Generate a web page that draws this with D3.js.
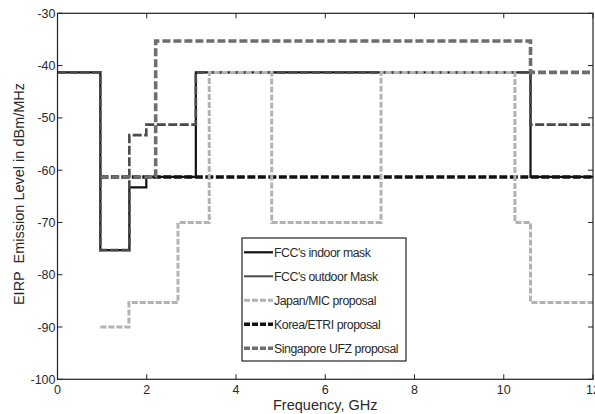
<!DOCTYPE html>
<html>
<head>
<meta charset="utf-8">
<script src="https://cdn.jsdelivr.net/npm/d3@7"></script>
<style>
    body { margin: 0; background: #fff; }
    text { font-family: "Liberation Sans", Arial, sans-serif; fill: #2a2a2a; }
</style>
</head>
<body>
<svg id="chart" width="595" height="414"></svg>
<script>
// step breakpoints (GHz) and levels (dBm/MHz), each level holds until the next breakpoint
const fcc_indoor_x = [0, 0.96, 1.61, 1.99, 3.1, 10.6, 12];
const fcc_indoor_y = [-41.3, -75.3, -63.3, -61.3, -41.3, -61.3, -61.3];

const fcc_outdoor_x = [0, 0.96, 1.61, 1.99, 3.1, 10.6, 12];
const fcc_outdoor_y = [-41.3, -75.3, -53.3, -51.3, -41.3, -51.3, -51.3];

const japan_x = [0.96, 1.6, 2.7, 3.4, 4.8, 7.25, 10.25, 10.6, 12];
const japan_y = [-90, -85.3, -70, -41.3, -70, -41.3, -70, -85.3, -85.3];

const korea_x = [0.96, 12];
const korea_y = [-61.3, -61.3];

const singapore_x = [0.96, 2.2, 10.6, 12];
const singapore_y = [-61.3, -35.3, -41.3, -41.3];

const legend_labels = ["FCC's indoor mask", "FCC's outdoor Mask", "Japan/MIC proposal",
    "Korea/ETRI proposal", "Singapore UFZ proposal"];

const x_ticks = [0, 2, 4, 6, 8, 10, 12];
const y_ticks = [-30, -40, -50, -60, -70, -80, -90, -100];

const svg = d3.select("#chart");
const plot_left = 57.5, plot_right = 593, plot_top = 13.3, plot_bottom = 379.3;

const x = d3.scaleLinear().domain([0, 12]).range([plot_left, plot_right]);
const y = d3.scaleLinear().domain([-100, -30]).range([plot_bottom, plot_top]);

// series styles, same order as legend
let series = [
    { xs: fcc_indoor_x, ys: fcc_indoor_y, color: "#111", width: 2.2, dash: null },
    { xs: fcc_outdoor_x, ys: fcc_outdoor_y, color: "#4a4a4a", width: 2.6, dash: "9,2.5", legend_dash: null },
    { xs: japan_x, ys: japan_y, color: "#b3b3b3", width: 3, dash: "6,2" },
    { xs: korea_x, ys: korea_y, color: "#111", width: 3.4, dash: "8,2.5" },
    { xs: singapore_x, ys: singapore_y, color: "#6e6e6e", width: 3.6, dash: "8,3" }
];

const line = d3.line()
    .x(d => x(d[0]))
    .y(d => y(d[1]))
    .curve(d3.curveStepAfter);

// drawing order: solid masks first, proposals on top
let draw_order = [0, 1, 3, 4, 2];
draw_order.forEach(i => {
    let s = series[i];
    let pts = s.xs.map((v, k) => [v, s.ys[k]]);
    svg.append("path")
        .attr("d", line(pts))
        .attr("fill", "none")
        .attr("stroke", s.color)
        .attr("stroke-width", s.width)
        .attr("stroke-dasharray", s.dash);
});

// frame with inward ticks on all sides
svg.append("rect")
    .attr("x", plot_left).attr("y", plot_top)
    .attr("width", plot_right - plot_left).attr("height", plot_bottom - plot_top)
    .attr("fill", "none").attr("stroke", "#222").attr("stroke-width", 1.2);

let ax = svg.append("g").attr("stroke", "#222").attr("stroke-width", 1);
ax.selectAll(".tb").data(x_ticks).enter().append("line")
    .attr("x1", d => x(d)).attr("x2", d => x(d))
    .attr("y1", plot_bottom).attr("y2", plot_bottom - 5);
ax.selectAll(".tt").data(x_ticks).enter().append("line")
    .attr("x1", d => x(d)).attr("x2", d => x(d))
    .attr("y1", plot_top).attr("y2", plot_top + 5);
ax.selectAll(".tl").data(y_ticks).enter().append("line")
    .attr("x1", plot_left).attr("x2", plot_left + 5)
    .attr("y1", d => y(d)).attr("y2", d => y(d));
ax.selectAll(".tr").data(y_ticks).enter().append("line")
    .attr("x1", plot_right).attr("x2", plot_right - 5)
    .attr("y1", d => y(d)).attr("y2", d => y(d));

svg.selectAll(".xl").data(x_ticks).enter().append("text")
    .attr("x", d => x(d)).attr("y", 394)
    .attr("text-anchor", "middle").attr("font-size", 12.5)
    .text(d => d);

svg.selectAll(".yl").data(y_ticks).enter().append("text")
    .attr("x", plot_left - 2).attr("y", d => y(d) + 4.5)
    .attr("text-anchor", "end").attr("font-size", 12.5)
    .text(d => d);

svg.append("text")
    .attr("x", (plot_left + plot_right) / 2).attr("y", 409.5)
    .attr("text-anchor", "middle").attr("font-size", 14.5)
    .text("Frequency, GHz");

svg.append("text")
    .attr("transform", "translate(24," + 194 + ") rotate(-90)")
    .attr("text-anchor", "middle").attr("font-size", 14.5)
    .attr("xml:space", "preserve")
    .text("EIRP  Emission Level in dBm/MHz");

// legend
let lg = svg.append("g");
lg.append("rect")
    .attr("x", 242).attr("y", 238).attr("width", 164).attr("height", 123)
    .attr("fill", "#fff").attr("stroke", "#222").attr("stroke-width", 1.2);

let row_y = d3.scalePoint().domain(d3.range(legend_labels.length)).range([252.3, 348.3]);
legend_labels.forEach((label, i) => {
    let s = series[i];
    let dash = s.legend_dash !== undefined ? s.legend_dash : s.dash;
    lg.append("line")
        .attr("x1", 244).attr("x2", 273)
        .attr("y1", row_y(i)).attr("y2", row_y(i))
        .attr("stroke", s.color)
        .attr("stroke-width", i == 1 ? 2 : s.width)
        .attr("stroke-dasharray", dash ? "6,2" : null);
    lg.append("text")
        .attr("x", 274).attr("y", row_y(i) + 4.5)
        .attr("font-size", 12.3).attr("letter-spacing", -0.45)
        .text(label);
});
</script>
</body>
</html>
